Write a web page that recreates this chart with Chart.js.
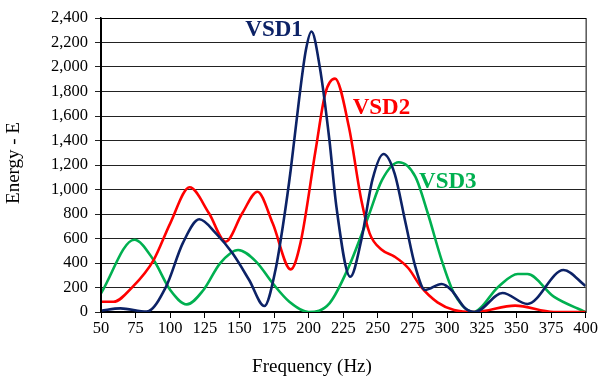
<!DOCTYPE html>
<html>
<head>
<meta charset="utf-8">
<script src="https://cdn.jsdelivr.net/npm/chart.js@4"></script>
<style>
  body { margin: 0; background: #fff; }
  #wrap { width: 599px; height: 381px; }
</style>
</head>
<body>
<div id="wrap"><canvas id="myChart" width="599" height="381"></canvas></div>
<script>
// データ
const vsd1Freq = [50, 64, 83, 97, 109, 121, 133, 145, 157, 168, 176, 182, 187, 193, 198, 202, 208, 215, 220, 230, 238, 246, 254, 262, 270, 277, 284, 296, 303, 313, 320, 340, 358, 384, 400];
const vsd1Vals = [10, 30, 3, 207, 560, 757, 642, 479, 261, 49, 343, 751, 1159, 1730, 2140, 2290, 2000, 1400, 860, 288, 588, 1078, 1290, 1132, 724, 370, 180, 229, 180, 30, 0, 155, 65, 343, 212];

const vsd2Freq = [50, 59, 73, 88, 100, 114, 128, 140, 152, 163, 174, 187, 194, 205, 212, 219, 229, 238, 244, 253, 262, 272, 281, 293, 305, 320, 349, 377, 400];
const vsd2Vals = [84, 84, 207, 424, 724, 1018, 806, 574, 806, 982, 724, 348, 560, 1322, 1785, 1905, 1513, 914, 642, 506, 452, 357, 207, 79, 16, 0, 52, 0, 0];

const vsd3Freq = [50, 74, 88, 100, 112, 124, 136, 149, 162, 174, 186, 200, 215, 229, 243, 253, 265, 277, 286, 296, 305, 319, 337, 351, 358, 377, 400];
const vsd3Vals = [152, 590, 424, 180, 62, 180, 397, 506, 411, 234, 84, 0, 71, 370, 778, 1078, 1222, 1105, 806, 424, 152, 0, 207, 310, 310, 125, 0];

const xTicks = [50, 400, 25];
const yTicks = [0, 2400, 200];

const seriesNames = ['VSD1', 'VSD2', 'VSD3'];
const seriesColors = ['#0c2266', '#ff0000', '#00b050'];
// ラベル位置（データ座標）
const labelPos = [[175, 2300], [252.5, 1665], [300.5, 1061]];

function toPoints(xs, ys) {
  return xs.map((x, i) => ({ x: x, y: ys[i] }));
}

const serif = "'Liberation Serif', 'DejaVu Serif', serif";

// 枠線・軸タイトル・シリーズ名
const extras = {
  id: 'extras',
  afterDraw(chart) {
    const { ctx, chartArea, scales } = chart;
    ctx.save();
    ctx.strokeStyle = '#000';
    ctx.lineWidth = 1;
    ctx.strokeRect(chartArea.left + 0.5, chartArea.top + 0.5,
      chartArea.right - chartArea.left, chartArea.bottom - chartArea.top);

    ctx.fillStyle = '#000';
    ctx.font = '19px ' + serif;
    ctx.textAlign = 'center';
    ctx.textBaseline = 'middle';
    ctx.fillText('Frequency (Hz)', 312, 367);
    ctx.save();
    ctx.translate(14, 163);
    ctx.rotate(-Math.PI / 2);
    ctx.fillText('Energy - E', 0, 0);
    ctx.restore();

    ctx.font = 'bold 23px ' + serif;
    seriesNames.forEach((name, i) => {
      ctx.fillStyle = seriesColors[i];
      ctx.fillText(name, scales.x.getPixelForValue(labelPos[i][0]),
        scales.y.getPixelForValue(labelPos[i][1]));
    });
    ctx.restore();
  }
};

const makeSet = (label, xs, ys, color) => ({
  label: label,
  data: toPoints(xs, ys),
  borderColor: color,
  borderWidth: 2.6,
  pointRadius: 0,
  fill: false,
  cubicInterpolationMode: 'monotone'
});

new Chart(document.getElementById('myChart'), {
  type: 'line',
  data: {
    datasets: [
      makeSet('VSD1', vsd1Freq, vsd1Vals, seriesColors[0]),
      makeSet('VSD2', vsd2Freq, vsd2Vals, seriesColors[1]),
      makeSet('VSD3', vsd3Freq, vsd3Vals, seriesColors[2])
    ]
  },
  options: {
    responsive: false,
    animation: false,
    layout: { padding: { top: 18, right: 10, left: 0, bottom: 0 } },
    plugins: { legend: { display: false }, tooltip: { enabled: false } },
    scales: {
      x: {
        type: 'linear',
        min: xTicks[0], max: xTicks[1],
        afterFit(scale) { scale.height = 69; },
        ticks: { stepSize: xTicks[2], color: '#000', font: { family: serif, size: 16.5 }, padding: 1, maxRotation: 0 },
        grid: { drawOnChartArea: false, color: '#000', tickLength: 6 },
        border: { color: '#000', width: 1.5 }
      },
      y: {
        min: yTicks[0], max: yTicks[1],
        afterFit(scale) { scale.width = 101; },
        ticks: { stepSize: yTicks[2], color: '#000', font: { family: serif, size: 16.5 }, padding: 7 },
        grid: { color: '#222', tickLength: 6 },
        border: { color: '#000', width: 1.5 }
      }
    }
  },
  plugins: [extras]
});
</script>
</body>
</html>
